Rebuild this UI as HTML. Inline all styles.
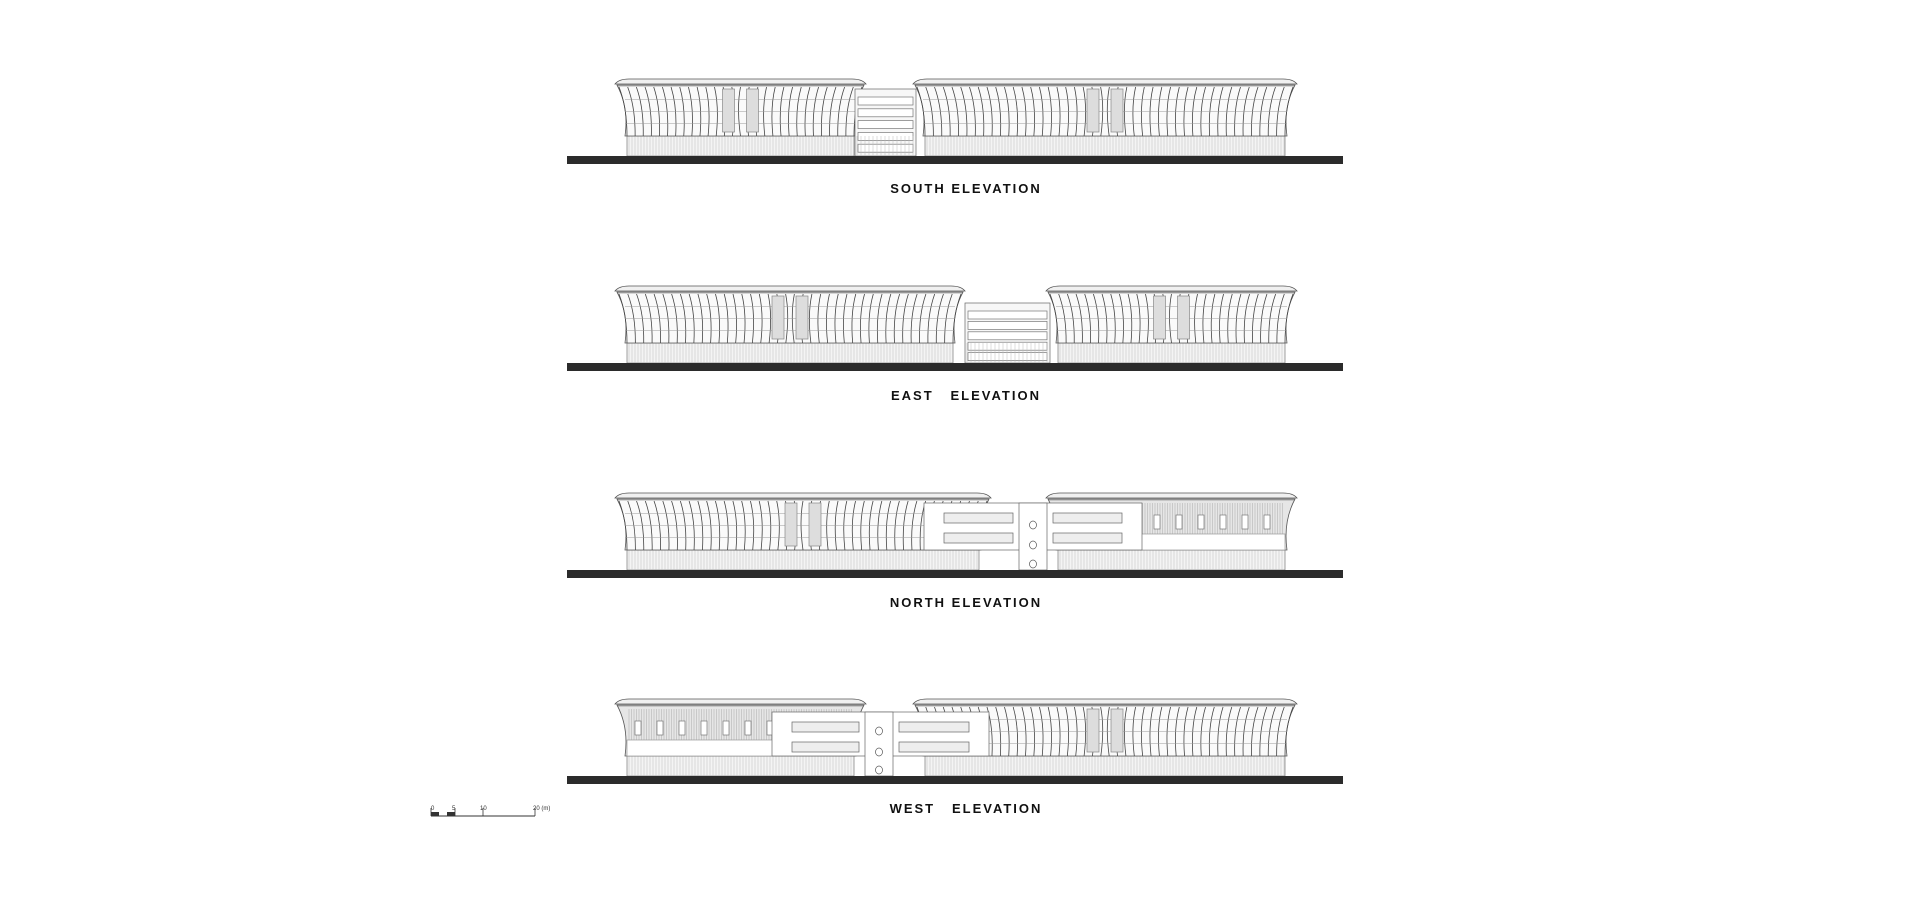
<!DOCTYPE html>
<html><head><meta charset="utf-8"><style>
html,body{margin:0;padding:0;background:#fff;}
svg{display:block}
</style></head><body>
<svg id="s" width="1905" height="920" xmlns="http://www.w3.org/2000/svg" font-family="Liberation Sans, sans-serif">
<rect width="1905" height="920" fill="#fff"/>
</svg>
<script>
const S=document.getElementById('s');let out='';
function L(x1,y1,x2,y2,c,w){out+=`<line x1="${x1}" y1="${y1}" x2="${x2}" y2="${y2}" stroke="${c||'#555'}" stroke-width="${w||0.7}"/>`;}
function R(x,y,w,h,f,s){out+=`<rect x="${x}" y="${y}" width="${w}" height="${h}" fill="${f||'#fff'}" stroke="${s||'#666'}" stroke-width="0.7"/>`;}
function pod(x1,x2,top,g,hatch){
  const bt=g-20, w=x2-x1;
  R(x1+12,bt,w-24,20,'#f4f4f4','#777');
  for(let x=x1+14;x<x2-12;x+=3)L(x,bt,x,g,'#bbb',0.5);
  out+=`<path d="M${x1+2} ${top+6} Q${x1+14} ${(top+bt)/2} ${x1+10} ${bt} L${x2-10} ${bt} Q${x2-14} ${(top+bt)/2} ${x2-2} ${top+6} Z" fill="${hatch?'#e6e6e6':'#fafafa'}" stroke="#555" stroke-width="0.8"/>`;
  if(hatch){
    for(let x=x1+14;x<x2-12;x+=2.5)L(x,top+10,x,bt-16,'#aaa',0.5);
    R(x1+12,bt-16,w-24,16,'#fff','#999');
    for(let x=x1+20;x<x2-30;x+=22)R(x,top+22,6,14,'#fff','#777');
  } else {
    const n=Math.round(w/9);
    for(let i=0;i<=n;i++){const t=i/n;const xt=x1+4+t*(w-8);const xb=x1+12+t*(w-24);
      out+=`<path d="M${xt} ${top+8} Q${(xt+xb)/2+(t<0.5?4:-4)} ${(top+bt)/2} ${xb} ${bt}" fill="none" stroke="#444" stroke-width="0.8"/>`;}
    for(let k=1;k<4;k++){const y=top+8+k*(bt-top-8)/4;L(x1+10,y,x2-10,y,'#999',0.5);}
    const c=(x1+x2)/2;R(c-18,top+10,12,bt-top-14,'#ddd','#888');R(c+6,top+10,12,bt-top-14,'#ddd','#888');
  }
  out+=`<path d="M${x1} ${top+5} Q${x1+4} ${top} ${x1+14} ${top} L${x2-14} ${top} Q${x2-4} ${top} ${x2} ${top+5} Z" fill="#f0f0f0" stroke="#555" stroke-width="0.8"/>`;
  L(x1+2,top+7,x2-2,top+7,'#666',0.6);
}
function link(x1,x2,top,g){
  R(x1,top,x2-x1,g-top,'#f7f7f7','#666');
  for(let k=0;k<5;k++){const y=top+8+k*(g-top-8)/5;R(x1+3,y,x2-x1-6,8,'#fff','#777');}
  for(let x=x1+2;x<x2;x+=4)L(x,g-20,x,g,'#bbb',0.5);
}
function block(x1,x2,top,g,cx,cys){
  R(x1,top,x2-x1,g-top-20,'#fff','#666');
  R(x1+20,top+10,cx-x1-40,10,'#eee','#666');R(x1+20,top+30,cx-x1-40,10,'#eee','#666');
  R(cx+20,top+10,x2-cx-40,10,'#eee','#666');R(cx+20,top+30,x2-cx-40,10,'#eee','#666');
  R(cx-14,top,28,g-top,'#fff','#666');
  cys.forEach(y=>out+=`<ellipse cx="${cx}" cy="${y}" rx="3.5" ry="4" fill="#fff" stroke="#555" stroke-width="0.7"/>`);
}
function ground(dy,label){
  out+=`<rect x="567" y="${156+dy}" width="776" height="8" fill="#2b2b2b"/>`;
  out+=`<text x="966" y="${193+dy}" text-anchor="middle" font-size="13" font-weight="bold" fill="#111" letter-spacing="2" xml:space="preserve">${label}</text>`;
}
let d=0;pod(615,866,79,156,false);link(855,916,89,156);pod(913,1297,79,156,false);ground(d,'SOUTH ELEVATION');
d=207;pod(615,965,79+d,156+d,false);link(965,1050,96+d,156+d);pod(1046,1297,79+d,156+d,false);ground(d,'EAST   ELEVATION');
d=414;pod(615,991,79+d,156+d,false);pod(1046,1297,79+d,156+d,true);block(924,1142,89+d,156+d,1033,[525,545,564]);ground(d,'NORTH ELEVATION');
d=620;pod(615,866,79+d,156+d,true);pod(913,1297,79+d,156+d,false);block(772,989,92+d,156+d,879,[731,752,770]);ground(d,'WEST   ELEVATION');
out+=`<line x1="431" y1="816" x2="535" y2="816" stroke="#333" stroke-width="1"/>`;
out+=`<rect x="431" y="812" width="8" height="4" fill="#333"/><rect x="447" y="812" width="8" height="4" fill="#333"/>`;
[431,455,483,535].forEach(x=>L(x,808,x,816,'#333',0.8));
out+=`<text x="431" y="810" font-size="6" fill="#333">0</text><text x="452" y="810" font-size="6" fill="#333">5</text><text x="480" y="810" font-size="6" fill="#333">10</text><text x="533" y="810" font-size="6" fill="#333">20 (m)</text>`;
S.insertAdjacentHTML('beforeend',out);
</script>
</body></html>
